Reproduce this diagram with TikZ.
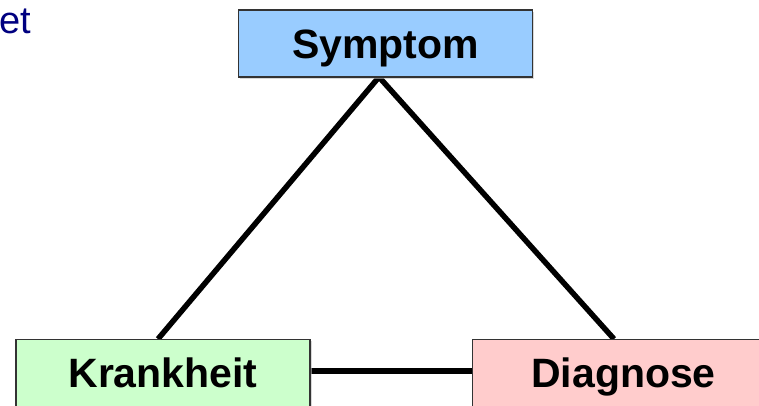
\documentclass[tikz,border=0pt]{standalone}
\usepackage{fontspec}
\setmainfont{Liberation Sans}
\usetikzlibrary{shadows}
\definecolor{symblue}{HTML}{99CCFF}
\definecolor{krgreen}{HTML}{CCFFCC}
\definecolor{dgpink}{HTML}{FFCCCC}
\definecolor{boxborder}{HTML}{333333}
\definecolor{titlenavy}{RGB}{0,0,128}
\tikzset{
  conceptbox/.style={draw=boxborder, line width=1.8bp, rectangle,
    minimum width=294bp, minimum height=67bp, inner sep=0pt,
    text height=29.5bp, text depth=0pt,
    font=\fontsize{41bp}{48bp}\selectfont\bfseries,
    drop shadow={shadow xshift=1.5bp, shadow yshift=-1.5bp, fill=black!25, opacity=0.6}},
  link/.style={line width=5.5bp, black}
}
\begin{document}
\begin{tikzpicture}[x=1bp,y=-1bp]
\useasboundingbox (0,0) rectangle (759,405);
\clip (0,0) rectangle (759,405);
\fill[white] (0,0) rectangle (759,405);
\node[anchor=base east, inner sep=0pt, text=titlenavy, font=\fontsize{38bp}{44bp}\selectfont] (title) at (31,33) {et};
% connector end points
\coordinate (apex) at (379,77);
\coordinate (krtop) at (158,339);
\coordinate (dgtop) at (614,339);
\coordinate (hl) at (310,371);
\coordinate (hr) at (472,371);
\draw[link] (krtop) -- (apex) -- (dgtop);
\draw[link] (hl) -- (hr);
\node[conceptbox, fill=symblue] (sym) at (385.5,43.5) {Symptom};
\node[conceptbox, fill=krgreen] (kr) at (163,373) {Krankheit};
\node[conceptbox, fill=dgpink] (dg) at (619.5,373) {\hspace*{8bp}Diagnose};
\end{tikzpicture}
\end{document}
